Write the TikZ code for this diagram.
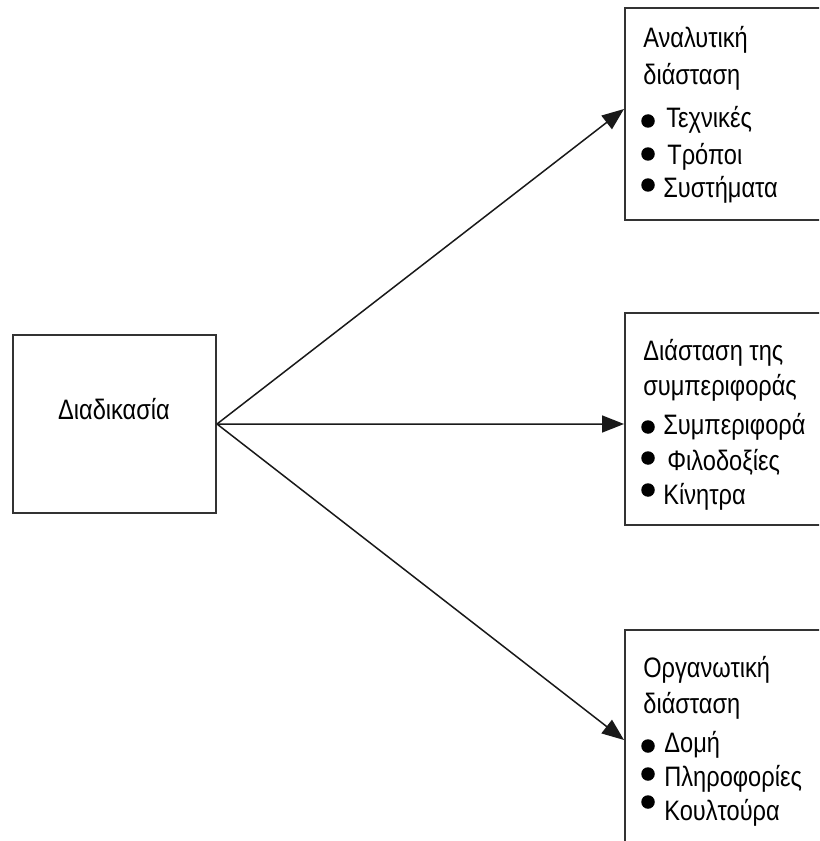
\documentclass[tikz,border=0pt]{standalone}
\usepackage{fontspec}
\setmainfont[FakeStretch=0.84]{Liberation Sans}
\usetikzlibrary{arrows.meta}
\tikzset{
    box/.style = {rectangle, draw=black!80, line width=0.04cm, minimum width=4.3cm, minimum height=4.24cm, inner sep=0pt},
    txt/.style = {anchor=base west, inner sep=0pt, font=\fontsize{16}{19}\selectfont},
    dot/.style = {circle, fill=black, inner sep=0pt, minimum size=0.27cm},
    edgen/.style = {-{Triangle[length=0.44cm,width=0.34cm]}, line width=0.03cm, black!90},
}

\begin{document}
\begin{tikzpicture}[x=0.02cm,y=-0.02cm]
  \clip (0,0) rectangle (819,841);

  \node[box, minimum width=4.06cm, minimum height=3.56cm] (proc) at (114.5,424) {};
  \node[txt, anchor=base] (proct) at (114,419) {Διαδικασία};

  \node[box] (anal) at (732.5,114) {};
  \node[box] (beh) at (732.5,419) {};
  \node[box, minimum height=4.6cm] (org) at (732.5,745) {};

\node[txt] (a1) at (643,48) {Αναλυτική};
\node[txt] (a2) at (643,85) {διάσταση};
\node[dot] (ad1) at (648,121) {}; \node[txt] (a3) at (666,128) {Τεχνικές};
\node[dot] (ad2) at (648,154) {}; \node[txt] (a4) at (667,165) {Τρόποι};
\node[dot] (ad3) at (648,185) {}; \node[txt] (a5) at (663,197) {Συστήματα};

\node[txt] (b1) at (643,360) {Διάσταση της};
\node[txt] (b2) at (643,395) {συμπεριφοράς};
\node[dot] (bd1) at (648,427) {}; \node[txt] (b3) at (663,434) {Συμπεριφορά};
\node[dot] (bd2) at (648,458) {}; \node[txt] (b4) at (667,470) {Φιλοδοξίες};
\node[dot] (bd3) at (648,490) {}; \node[txt] (b5) at (663,504) {Κίνητρα};

\node[txt] (c1) at (643,677) {Οργανωτική};
\node[txt] (c2) at (643,713) {διάσταση};
\node[dot] (cd1) at (648,746) {}; \node[txt] (c3) at (664,752) {Δομή};
\node[dot] (cd2) at (648,774) {}; \node[txt] (c4) at (664,786) {Πληροφορίες};
\node[dot] (cd3) at (648,802) {}; \node[txt] (c5) at (664,820) {Κουλτούρα};

  \draw[edgen] (proc.east) -- ([yshift=0.1cm]anal.west);
  \draw[edgen] (proc.east) -- ([yshift=-0.1cm]beh.west);
  \draw[edgen] (proc.east) -- ([yshift=0.1cm]org.west);

\end{tikzpicture}
\end{document}
